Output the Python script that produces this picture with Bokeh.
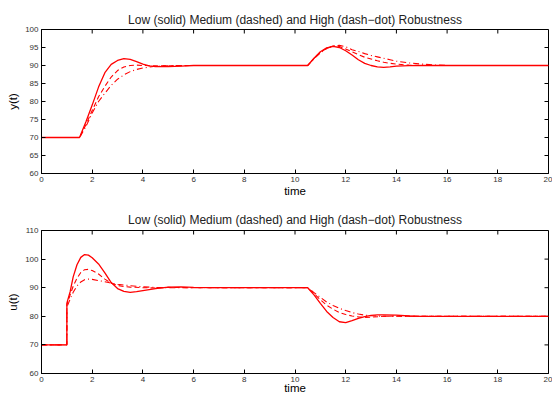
import math
from bokeh.plotting import figure
from bokeh.layouts import column
from bokeh.models import FixedTicker, Range1d
from bokeh.embed import file_html
from bokeh.resources import INLINE

TITLE = "Low (solid) Medium (dashed) and High (dash\u2212dot) Robustness"

# ---- y(t) data ----
y_low_t = [0, 1.5, 1.75, 2.0, 2.25, 2.5, 2.75, 3.0, 3.25, 3.5, 3.75, 4.0, 4.25, 4.5, 5.0, 5.5, 6.0,
           10.5, 10.75, 11.0, 11.25, 11.5, 11.75, 12.0, 12.25, 12.5, 12.75, 13.0, 13.25, 13.5, 13.75,
           14.0, 14.5, 15.0, 20]
y_low = [70, 70, 74.3, 79.0, 84.0, 88.0, 90.3, 91.4, 91.9, 91.7, 91.1, 90.4, 89.9, 89.7, 89.7, 89.85, 90.0,
         90.0, 92.0, 93.8, 94.9, 95.3, 95.0, 94.1, 92.9, 91.6, 90.6, 90.0, 89.6, 89.5, 89.6,
         89.8, 89.95, 90.0, 90.0]

y_med_t = [0, 1.5, 1.75, 2.0, 2.25, 2.5, 2.75, 3.0, 3.25, 3.5, 3.75, 4.0, 4.5, 5.0, 6.0,
           10.5, 10.75, 11.0, 11.25, 11.5, 11.75, 12.0, 12.25, 12.5, 12.75, 13.0, 13.25, 13.5, 13.75,
           14.0, 14.5, 15.0, 20]
y_med = [70, 70, 73.5, 77.5, 81.3, 84.2, 86.8, 88.6, 89.6, 90.0, 90.1, 90.0, 89.9, 89.9, 90.0,
         90.0, 92.0, 93.7, 94.8, 95.4, 95.3, 94.6, 93.8, 93.0, 92.3, 91.8, 91.3, 90.9, 90.6,
         90.4, 90.1, 90.0, 90.0]

y_high_t = [0, 1.5, 1.75, 2.0, 2.25, 2.5, 2.75, 3.0, 3.25, 3.5, 3.75, 4.0, 4.5, 5.0, 6.0,
            10.5, 10.75, 11.0, 11.25, 11.5, 11.75, 12.0, 12.25, 12.5, 12.75, 13.0, 13.25, 13.5, 13.75,
            14.0, 14.5, 15.0, 15.5, 16.0, 20]
y_high = [70, 70, 73.0, 76.8, 80.0, 82.3, 84.5, 86.2, 87.4, 88.3, 88.9, 89.3, 89.8, 89.95, 90.0,
          90.0, 91.9, 93.5, 94.7, 95.4, 95.6, 95.2, 94.4, 93.9, 93.3, 92.8, 92.4, 92.0, 91.6,
          91.2, 90.7, 90.4, 90.15, 90.0, 90.0]

# ---- u(t) data ----
u_low_t = [0, 1.0, 1.001, 1.13, 1.25, 1.4, 1.55, 1.7, 1.85, 2.0, 2.25, 2.5, 2.75, 3.0, 3.25, 3.5, 3.75,
           4.0, 4.5, 5.0, 5.5, 6.0, 7.0, 10.5, 10.75, 11.0, 11.25, 11.5, 11.75, 12.0, 12.25, 12.5,
           12.75, 13.0, 13.25, 13.5, 14.0, 14.5, 15.0, 20]
u_low = [70, 70, 84.6, 88.6, 93.8, 98.0, 100.6, 101.6, 101.4, 100.5, 98.3, 95.2, 91.8, 89.7, 88.7, 88.4, 88.6,
         89.0, 89.7, 90.2, 90.3, 90.1, 90.0, 90.0, 87.5, 84.5, 81.7, 79.6, 78.1, 77.8, 78.5, 79.3,
         79.9, 80.3, 80.5, 80.5, 80.4, 80.1, 80.0, 80.0]

u_med_t = [0, 1.0, 1.001, 1.13, 1.25, 1.4, 1.55, 1.7, 1.85, 2.0, 2.25, 2.5, 2.75, 3.0, 3.25, 3.5,
           4.0, 4.5, 5.0, 6.0, 10.5, 10.75, 11.0, 11.25, 11.5, 11.75, 12.0, 12.25, 12.5, 12.75,
           13.0, 13.5, 14.0, 15.0, 20]
u_med = [70, 70, 84.0, 87.5, 90.5, 93.3, 95.3, 96.3, 96.4, 96.0, 94.8, 93.0, 91.6, 90.8, 90.4, 90.2,
         90.0, 89.9, 90.1, 90.0, 90.0, 88.0, 85.8, 83.9, 82.5, 81.3, 80.6, 80.1, 79.8, 79.6,
         79.7, 80.0, 80.1, 80.0, 80.0]

u_high_t = [0, 1.0, 1.001, 1.13, 1.25, 1.4, 1.55, 1.7, 1.85, 2.0, 2.25, 2.5, 2.75, 3.0, 3.5,
            4.0, 4.5, 5.0, 10.5, 10.75, 11.0, 11.25, 11.5, 11.75, 12.0, 12.25, 12.5, 12.75,
            13.0, 13.5, 20]
u_high = [70, 70, 83.2, 86.0, 88.4, 90.6, 92.0, 92.8, 93.0, 92.9, 92.5, 92.1, 91.6, 91.2, 90.7,
          90.3, 90.1, 90.0, 90.0, 88.3, 86.6, 85.0, 83.8, 82.8, 82.0, 81.3, 80.8, 80.4,
          80.2, 80.0, 80.0]

x_ticks = [0, 2, 4, 6, 8, 10, 12, 14, 16, 18, 20]
y_ticks_top = [60, 65, 70, 75, 80, 85, 90, 95, 100]
y_ticks_bot = [60, 70, 80, 90, 100, 110]

RED = "#ff0000"
FONT = "Liberation Sans"


def make_fig(height, yr, yticks, ylabel, series, mb_top, mb_bot, title_standoff, xlabel_standoff):
    p = figure(width=552, height=height, x_range=Range1d(0, 20), y_range=Range1d(*yr),
               output_backend="svg", toolbar_location=None,
               min_border_left=41, min_border_right=4, min_border_top=mb_top, min_border_bottom=mb_bot)
    p.title.text = TITLE
    p.title.align = "center"
    p.title.text_font = FONT
    p.title.text_font_size = "12px"
    p.title.text_font_style = "normal"
    p.title.text_color = "#222222"
    p.title.standoff = title_standoff
    p.grid.visible = False
    p.outline_line_color = "black"
    p.outline_line_width = 1
    p.background_fill_color = "white"
    p.border_fill_color = "white"

    for ax in p.xaxis:
        ax.ticker = FixedTicker(ticks=x_ticks)
        ax.axis_label = "time"
        ax.axis_label_standoff = xlabel_standoff
    for ax in p.yaxis:
        ax.ticker = FixedTicker(ticks=yticks)
        ax.axis_label = ylabel
        ax.axis_label_standoff = 3
    for ax in list(p.xaxis) + list(p.yaxis):
        ax.axis_line_color = "black"
        ax.major_tick_in = 4
        ax.major_tick_out = 0
        ax.minor_tick_line_color = None
        ax.major_tick_line_color = "black"
        ax.major_label_text_font = FONT
        ax.major_label_text_font_size = "8px"
        ax.major_label_text_color = "#333333"
        ax.major_label_standoff = 3
        ax.axis_label_text_font = FONT
        ax.axis_label_text_font_size = "11.5px"
        ax.axis_label_text_font_style = "normal"
        ax.axis_label_text_color = "black"

    # inward ticks on the top and right edges of the box
    p.ray(x=x_ticks, y=[yr[1]] * len(x_ticks), length=4, length_units="screen",
          angle=-math.pi / 2, line_color="black", line_width=1)
    p.ray(x=[20] * len(yticks), y=yticks, length=4, length_units="screen",
          angle=math.pi, line_color="black", line_width=1)

    (lt, lv), (mt, mv), (ht, hv) = series
    p.line(ht, hv, line_color=RED, line_width=1.1, line_dash="6 3 1 3")
    p.line(mt, mv, line_color=RED, line_width=1.1, line_dash="5 3")
    p.line(lt, lv, line_color=RED, line_width=1.3)
    return p


p1 = make_fig(200, (60, 100), y_ticks_top, "y(t)",
              [(y_low_t, y_low), (y_med_t, y_med), (y_high_t, y_high)], 29, 27, 6, 0)
p2 = make_fig(196, (60, 110), y_ticks_bot, "u(t)",
              [(u_low_t, u_low), (u_med_t, u_med), (u_high_t, u_high)], 30, 22, 7, -3)

layout = column(p1, p2, spacing=0)
open("out.html", "w").write(file_html(layout, INLINE))
